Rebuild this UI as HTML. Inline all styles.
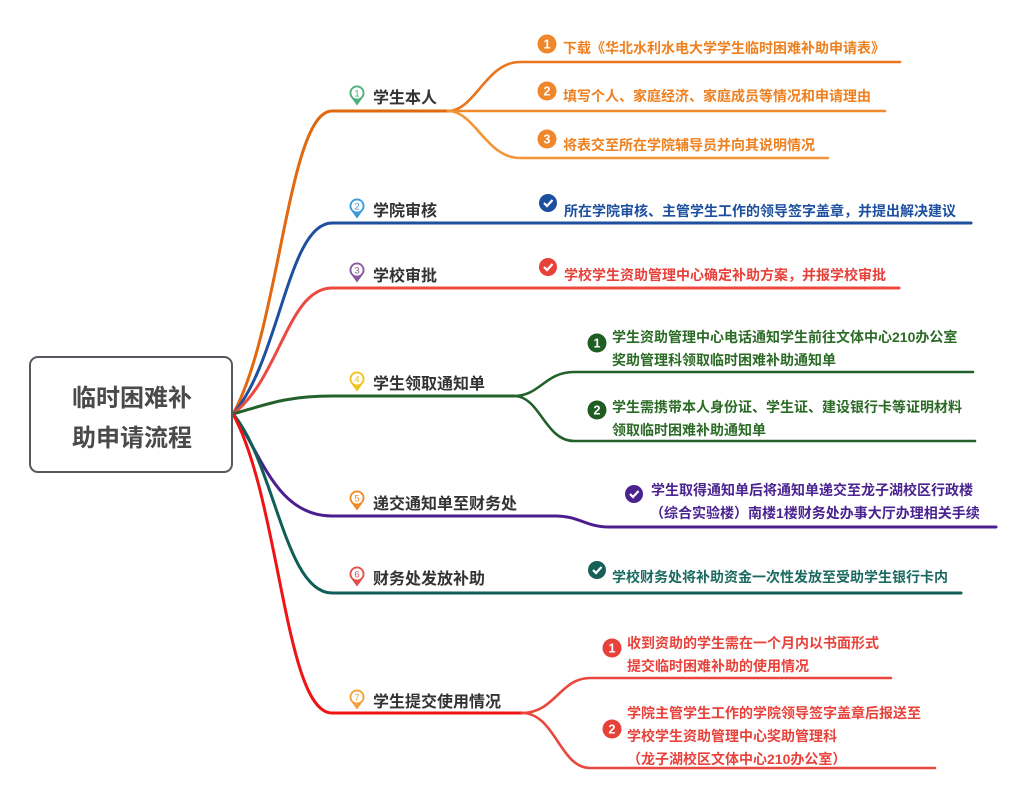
<!DOCTYPE html>
<html><head><meta charset="utf-8"><style>
html,body{margin:0;padding:0;background:#fff;}
svg{display:block;}
text{font-family:"Liberation Sans","Noto Sans CJK SC",sans-serif;font-weight:bold;}
</style></head><body>
<svg width="1024" height="801" viewBox="0 0 1024 801" xmlns="http://www.w3.org/2000/svg">
<rect width="1024" height="801" fill="#fff"/>
<g fill="none" stroke-linecap="round">
<!-- B1 -->
<path d="M233,414 C280,330 288,111 332,111 L448,111" stroke="#e2680f" stroke-width="3"/>
<path d="M448,111 C475,111 486,62 520,62 L900,62" stroke="#e9761c" stroke-width="2.6"/>
<path d="M448,111 L885,111" stroke="#f08a2c" stroke-width="2.6"/>
<path d="M448,111 C475,111 486,158 520,158 L828,158" stroke="#f29437" stroke-width="2.6"/>
<!-- B2 -->
<path d="M233,414 C280,360 288,223 332,223 L971,223" stroke="#1f4f9f" stroke-width="3"/>
<!-- B3 -->
<path d="M233,414 C280,378 288,288 332,288 L899,288" stroke="#ec4a40" stroke-width="3"/>
<!-- B4 -->
<path d="M233,414 C265,405 285,396 332,396 L514,396" stroke="#22612a" stroke-width="3"/>
<path d="M514,396 C540,396 545,372 574,372 L973,372" stroke="#22612a" stroke-width="2.6"/>
<path d="M514,396 C540,396 545,441 574,441 L975,441" stroke="#22612a" stroke-width="2.6"/>
<!-- B5 -->
<path d="M233,414 C260,450 275,516 332,516 L555,516 C580,516 585,527 610,527 L996,527" stroke="#4b1d8e" stroke-width="3"/>
<!-- B6 -->
<path d="M233,414 C275,464 285,593 332,593 L961,593" stroke="#0f5e58" stroke-width="3"/>
<!-- B7 -->
<path d="M233,414 C280,500 285,713 332,713 L522,713" stroke="#ee1414" stroke-width="3"/>
<path d="M522,713 C555,713 560,678 590,678 L891,678" stroke="#e8483e" stroke-width="2.6"/>
<path d="M522,713 C555,713 560,768 590,768 L935,768" stroke="#e8483e" stroke-width="2.6"/>
</g>

<!-- root -->
<rect x="30" y="357" width="202" height="115" rx="8" ry="8" fill="#fff" stroke="#555a60" stroke-width="2"/>
<text x="132" y="406" font-size="24" fill="#4a4a4a" text-anchor="middle">临时困难补</text>
<text x="132" y="446" font-size="24" fill="#4a4a4a" text-anchor="middle">助申请流程</text>

<!-- pins -->
<g transform="translate(357,93)"><path d="M-5.3,5.3 A7.5,7.5 0 1 1 5.3,5.3 L0,12.5 Z" fill="#4cb07a"/><circle r="5.6" fill="#fff"/><text y="3.5" font-size="9.5" fill="#4cb07a" text-anchor="middle" style="font-weight:normal">1</text></g>
<g transform="translate(357,206)"><path d="M-5.3,5.3 A7.5,7.5 0 1 1 5.3,5.3 L0,12.5 Z" fill="#3a9ad9"/><circle r="5.6" fill="#fff"/><text y="3.5" font-size="9.5" fill="#3a9ad9" text-anchor="middle" style="font-weight:normal">2</text></g>
<g transform="translate(357,270)"><path d="M-5.3,5.3 A7.5,7.5 0 1 1 5.3,5.3 L0,12.5 Z" fill="#8a5a9e"/><circle r="5.6" fill="#fff"/><text y="3.5" font-size="9.5" fill="#8a5a9e" text-anchor="middle" style="font-weight:normal">3</text></g>
<g transform="translate(357,379)"><path d="M-5.3,5.3 A7.5,7.5 0 1 1 5.3,5.3 L0,12.5 Z" fill="#f2c21b"/><circle r="5.6" fill="#fff"/><text y="3.5" font-size="9.5" fill="#f2c21b" text-anchor="middle" style="font-weight:normal">4</text></g>
<g transform="translate(357,498)"><path d="M-5.3,5.3 A7.5,7.5 0 1 1 5.3,5.3 L0,12.5 Z" fill="#f08a24"/><circle r="5.6" fill="#fff"/><text y="3.5" font-size="9.5" fill="#f08a24" text-anchor="middle" style="font-weight:normal">5</text></g>
<g transform="translate(357,574)"><path d="M-5.3,5.3 A7.5,7.5 0 1 1 5.3,5.3 L0,12.5 Z" fill="#e0504a"/><circle r="5.6" fill="#fff"/><text y="3.5" font-size="9.5" fill="#e0504a" text-anchor="middle" style="font-weight:normal">6</text></g>
<g transform="translate(357,697)"><path d="M-5.3,5.3 A7.5,7.5 0 1 1 5.3,5.3 L0,12.5 Z" fill="#f2a03a"/><circle r="5.6" fill="#fff"/><text y="3.5" font-size="9.5" fill="#f2a03a" text-anchor="middle" style="font-weight:normal">7</text></g>

<!-- branch labels -->
<g font-size="16" fill="#333">
<text x="373" y="103">学生本人</text>
<text x="373" y="216">学院审核</text>
<text x="373" y="281">学校审批</text>
<text x="373" y="389">学生领取通知单</text>
<text x="373" y="509">递交通知单至财务处</text>
<text x="373" y="584">财务处发放补助</text>
<text x="373" y="707">学生提交使用情况</text>
</g>

<!-- B1 children -->
<g>
<circle cx="547" cy="44" r="9.5" fill="#f0862a"/><text x="547" y="48.5" font-size="12.5" fill="#fff" text-anchor="middle">1</text>
<circle cx="547" cy="91" r="9.5" fill="#f0862a"/><text x="547" y="95.5" font-size="12.5" fill="#fff" text-anchor="middle">2</text>
<circle cx="547" cy="139" r="9.5" fill="#f0862a"/><text x="547" y="143.5" font-size="12.5" fill="#fff" text-anchor="middle">3</text>
</g>
<g font-size="14" fill="#ef8020">
<text x="563" y="53">下载《华北水利水电大学学生临时困难补助申请表》</text>
<text x="563" y="101">填写个人、家庭经济、家庭成员等情况和申请理由</text>
<text x="563" y="150">将表交至所在学院辅导员并向其说明情况</text>
</g>

<!-- B2 -->
<circle cx="548" cy="203" r="9" fill="#1d4f9f"/><path d="M544,203 L547,206 L552.5,200" stroke="#fff" stroke-width="2.2" fill="none"/>
<text x="564" y="216" font-size="14" fill="#1d4f9f">所在学院审核、主管学生工作的领导签字盖章，并提出解决建议</text>

<!-- B3 -->
<circle cx="548" cy="267" r="9" fill="#e8413a"/><path d="M544,267 L547,270 L552.5,264" stroke="#fff" stroke-width="2.2" fill="none"/>
<text x="564" y="280" font-size="14" fill="#e8413a">学校学生资助管理中心确定补助方案，并报学校审批</text>

<!-- B4 -->
<circle cx="597" cy="343" r="9.5" fill="#1f5e22"/><text x="597" y="347.5" font-size="12.5" fill="#fff" text-anchor="middle">1</text>
<circle cx="597" cy="410" r="9.5" fill="#1f5e22"/><text x="597" y="414.5" font-size="12.5" fill="#fff" text-anchor="middle">2</text>
<g font-size="14" fill="#2b6b26">
<text x="612" y="342">学生资助管理中心电话通知学生前往文体中心210办公室</text>
<text x="612" y="365">奖助管理科领取临时困难补助通知单</text>
<text x="612" y="412">学生需携带本人身份证、学生证、建设银行卡等证明材料</text>
<text x="612" y="435">领取临时困难补助通知单</text>
</g>

<!-- B5 -->
<circle cx="634" cy="494" r="9" fill="#4a2390"/><path d="M630,494 L633,497 L638.5,491" stroke="#fff" stroke-width="2.2" fill="none"/>
<g font-size="14" fill="#4a2390">
<text x="651" y="495">学生取得通知单后将通知单递交至龙子湖校区行政楼</text>
<text x="650" y="518">（综合实验楼）南楼1楼财务处办事大厅办理相关手续</text>
</g>

<!-- B6 -->
<circle cx="597" cy="570" r="9" fill="#15615a"/><path d="M593,570 L596,573 L601.5,567" stroke="#fff" stroke-width="2.2" fill="none"/>
<text x="612" y="582" font-size="14" fill="#1b6a62">学校财务处将补助资金一次性发放至受助学生银行卡内</text>

<!-- B7 -->
<circle cx="612" cy="648" r="9.5" fill="#e8413a"/><text x="612" y="652.5" font-size="12.5" fill="#fff" text-anchor="middle">1</text>
<circle cx="612" cy="729" r="9.5" fill="#e8413a"/><text x="612" y="733.5" font-size="12.5" fill="#fff" text-anchor="middle">2</text>
<g font-size="14" fill="#e8423b">
<text x="627" y="648">收到资助的学生需在一个月内以书面形式</text>
<text x="627" y="671">提交临时困难补助的使用情况</text>
<text x="627" y="718">学院主管学生工作的学院领导签字盖章后报送至</text>
<text x="627" y="741">学校学生资助管理中心奖助管理科</text>
<text x="627" y="764">（龙子湖校区文体中心210办公室）</text>
</g>
</svg>
</body></html>
